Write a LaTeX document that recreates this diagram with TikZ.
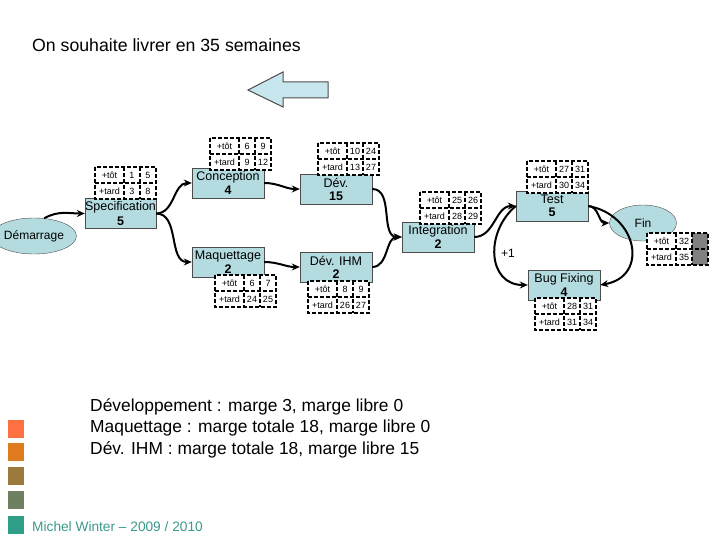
\documentclass[tikz,border=0pt]{standalone}
\usepackage{fontspec}
\setmainfont{Liberation Sans}
\usetikzlibrary{shapes.geometric,arrows.meta}
\definecolor{boxfill}{HTML}{B4DCE0}
\definecolor{arrfill}{HTML}{C8E6EE}
\definecolor{foot}{HTML}{3A9A8C}
\definecolor{c1}{HTML}{FF7043}\definecolor{c2}{HTML}{E07B20}\definecolor{c3}{HTML}{9B7A3C}\definecolor{c4}{HTML}{6E8060}\definecolor{c5}{HTML}{2E9E88}
\tikzset{
 task/.style={draw=black!70,fill=boxfill,minimum width=72pt,minimum height=30pt,inner sep=0pt,align=center,font=\fontsize{12.5}{11}\selectfont},
 term/.style={ellipse,draw=black!70,fill=boxfill,minimum width=67pt,minimum height=36pt,inner sep=0pt,font=\fontsize{12}{12}\selectfont},
 cell/.style={draw=black,line width=1.8pt,dash pattern=on 4pt off 2pt},
 ttxt/.style={font=\fontsize{9}{9}\selectfont,inner sep=0pt},
 conn/.style={line width=2pt,-{Stealth[length=8pt,width=7pt]}},
}
\newcommand{\tabl}[7]{%
 \fill[white] (#1,#2) rectangle ++(61,32);
 \fill[#7] (#1+45,#2) rectangle ++(16,32);
 \draw[cell] (#1,#2) rectangle ++(61,32);
 \draw[cell] (#1,#2+16) -- ++(61,0);
 \draw[cell] (#1+29,#2) -- ++(0,32);
 \draw[cell] (#1+45,#2) -- ++(0,32);
 \node[ttxt] at (#1+14.5,#2+8) {+tôt};
 \node[ttxt] at (#1+14.5,#2+24) {+tard};
 \node[ttxt] at (#1+37,#2+8) {#3};
 \node[ttxt] at (#1+53,#2+8) {#4};
 \node[ttxt] at (#1+37,#2+24) {#5};
 \node[ttxt] at (#1+53,#2+24) {#6};
}
\begin{document}
\begin{tikzpicture}[x=1pt,y=-1pt]
\useasboundingbox (0,0) rectangle (720,540);
\node[anchor=west,inner sep=0pt,font=\fontsize{17.7}{17}\selectfont] (title) at (32,45) {On souhaite livrer en 35 semaines};
\draw[black!70,fill=arrfill,line width=1pt] (248,90) -- (283,72) -- (283,82) -- (328,82) -- (328,98) -- (283,98) -- (283,107) -- cycle;
% nodes
\node[term] (dem) at (34,236) {Démarrage};
\node[task,minimum width=71pt] (spec) at (120.5,213.5) {Specification\\[2pt]\textbf{5}};
\node[task] (conc) at (228,183) {Conception\\[2pt]\textbf{4}};
\node[task] (dev) at (336,189) {Dév.\\[2pt]\textbf{15}};
\node[task] (maq) at (228,262) {Maquettage\\[2pt]\textbf{2}};
\node[task] (ihm) at (336,267) {Dév. IHM\\[2pt]\textbf{2}};
\node[task] (int) at (438,237) {Integration\\[2pt]\textbf{2}};
\node[task] (test) at (552,206) {Test\\[2pt]\textbf{5}};
\node[task] (bug) at (564,285) {Bug Fixing\\[2pt]\textbf{4}};
\node[term] (fin) at (643,223) {Fin};
% tables
\tabl{95}{167}{1}{5}{3}{8}{white}
\tabl{210}{138}{6}{9}{9}{12}{white}
\tabl{318}{143}{10}{24}{13}{27}{white}
\tabl{215}{275}{6}{7}{24}{25}{white}
\tabl{308}{281}{8}{9}{26}{27}{white}
\tabl{420}{192}{25}{26}{28}{29}{white}
\tabl{527}{161}{27}{31}{30}{34}{white}
\tabl{535}{298}{28}{31}{31}{34}{white}
\tabl{647}{233}{32}{}{35}{}{black!50}
% connectors
\draw[conn] (dem.60) to[out=30,in=180] (spec.west);
\draw[conn] (spec.east) to[out=0,in=180] (conc.west);
\draw[conn] (spec.east) to[out=0,in=180] (maq.west);
\draw[conn] (conc.east) to[out=0,in=180] (dev.west);
\draw[conn] (maq.east) to[out=0,in=180] (ihm.west);
\draw[conn] (dev.east) to[out=0,in=180] (int.west);
\draw[conn] (ihm.east) to[out=0,in=180] (int.west);
\draw[conn] (int.east) to[out=0,in=180] (test.west);
\draw[conn] (test.east) to[out=0,in=180] (fin.west);
\coordinate (tl) at (test.west);
\draw[conn] (tl) to[out=220,in=180,looseness=1.3] (bug.west);
\draw[conn] (test.east) to[out=-10,in=10,looseness=1.6] (bug.east);
\node[font=\fontsize{12}{12}\selectfont] (plus) at (508,253) {+1};
% bottom text
\node[anchor=north west,inner sep=0pt,align=left,font=\fontsize{17.4}{21.5}\selectfont] (notes) at (90,398) {Développement : marge 3, marge libre 0\\Maquettage : marge totale 18, marge libre 0\\Dév. IHM : marge totale 18, marge libre 15};
\fill[c1] (8,420) rectangle (24,438);
\fill[c2] (8,443) rectangle (24,461);
\fill[c3] (8,467) rectangle (24,485);
\fill[c4] (8,491) rectangle (24,509);
\fill[c5] (8,516) rectangle (24,534);
\node[anchor=west,inner sep=0pt,text=foot,font=\fontsize{13.7}{13}\selectfont] (foot) at (32,527) {Michel Winter – 2009 / 2010};
\end{tikzpicture}
\end{document}
